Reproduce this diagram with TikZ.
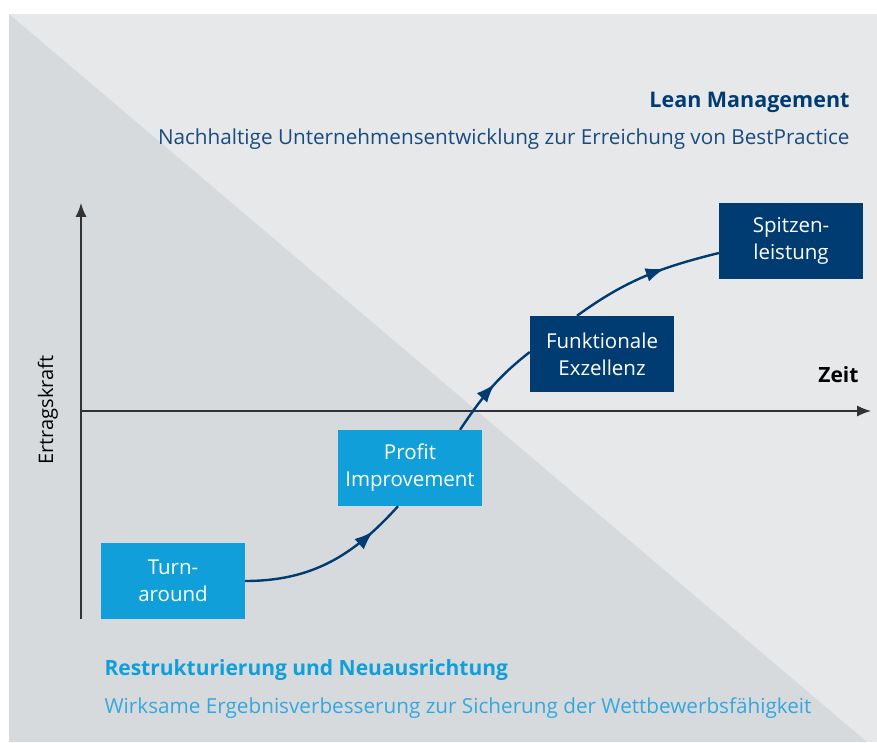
\documentclass[tikz,border=0pt]{standalone}
\usepackage{fontspec}
\setmainfont{Open Sans}
\usetikzlibrary{arrows.meta,positioning,decorations.markings}

\definecolor{bgdark}{RGB}{215,218,221}
\definecolor{bglight}{RGB}{231,232,234}
\definecolor{leancyan}{RGB}{16,159,217}
\definecolor{leanblue}{RGB}{0,60,114}
\definecolor{subblue}{RGB}{24,75,128}
\definecolor{subcyan}{RGB}{52,168,222}
\definecolor{axisgray}{RGB}{50,50,50}

\begin{document}
\begin{tikzpicture}[x=1pt,y=1pt,node distance=113pt and 190pt,on grid,
  stage/.style={rectangle,minimum width=144pt,minimum height=76pt,inner sep=0pt,
    text=white,align=center,font=\fontsize{20.5}{27}\selectfont},
  low/.style={stage,fill=leancyan},
  high/.style={stage,fill=leanblue},
  flow/.style={draw=leanblue,line width=2.4pt,postaction={decorate},
    decoration={markings,mark=at position #1 with {\arrow{Latex[length=19pt,width=14pt]}}}},
  flow/.default=0.55,
  axis/.style={draw=axisgray,line width=1.3pt,-{Latex[length=14pt,width=11pt]}}]
  \useasboundingbox (0,0) rectangle (877,742);
  % background
  \fill[bglight] (9,0) rectangle (877,728);
  \fill[bgdark] (9,728) -- (867,0) -- (9,0) -- cycle;
  % axes
  \coordinate (ybot)   at (81,123);
  \coordinate (ytop)   at (81,539);
  \coordinate (xleft)  at (81,331);
  \coordinate (xright) at (871,331);
  \draw[axis] (ybot) -- (ytop);
  \draw[axis] (xleft) -- (xright);
  \node[anchor=base east,font=\fontsize{21}{24}\selectfont\bfseries] (zeit) at (862,359) {Zeit};
  \node[anchor=base,rotate=90,font=\fontsize{20}{24}\selectfont] (ertrag) at (53,332) {Ertragskraft};
  % stages
  \node[low]  (turn)   at (173,161)                         {Turn-\\around};
  \node[low]  (profit) [above right=113pt and 237pt of turn] {Profit\\Improvement};
  \node[high] (funk)   [above right=114pt and 192pt of profit] {Funktionale\\Exzellenz};
  \node[high] (top)    [above right=113pt and 189pt of funk] {Spitzen-\\leistung};
  \draw[flow=0.8] (turn.east) to[out=0,in=228] ([xshift=-12pt]profit.south);
  \draw[flow=0.55] ([xshift=50pt]profit.north) to[out=56,in=218] ([yshift=2pt]funk.west);
  \draw[flow=0.64] ([xshift=-25pt]funk.north) to[out=36,in=194] ([yshift=-12pt]top.west);
  % titles
  \node[anchor=base east,text=leanblue,font=\fontsize{21.5}{24}\selectfont\bfseries] (lean) at (853,634) {Lean Management};
  \node[anchor=base east,text=subblue,font=\fontsize{20.7}{24}\selectfont] (leansub) at (853,597)
    {Nachhaltige Unternehmensentwicklung zur Erreichung von BestPractice};
  \node[anchor=base west,text=leancyan,font=\fontsize{21}{24}\selectfont\bfseries] (restr) at (101,67)
    {Restrukturierung und Neuausrichtung};
  \node[anchor=base west,text=subcyan,font=\fontsize{20.7}{24}\selectfont] (restrsub) at (101,29)
    {Wirksame Ergebnisverbesserung zur Sicherung der Wettbewerbsfähigkeit};
\end{tikzpicture}
\end{document}
